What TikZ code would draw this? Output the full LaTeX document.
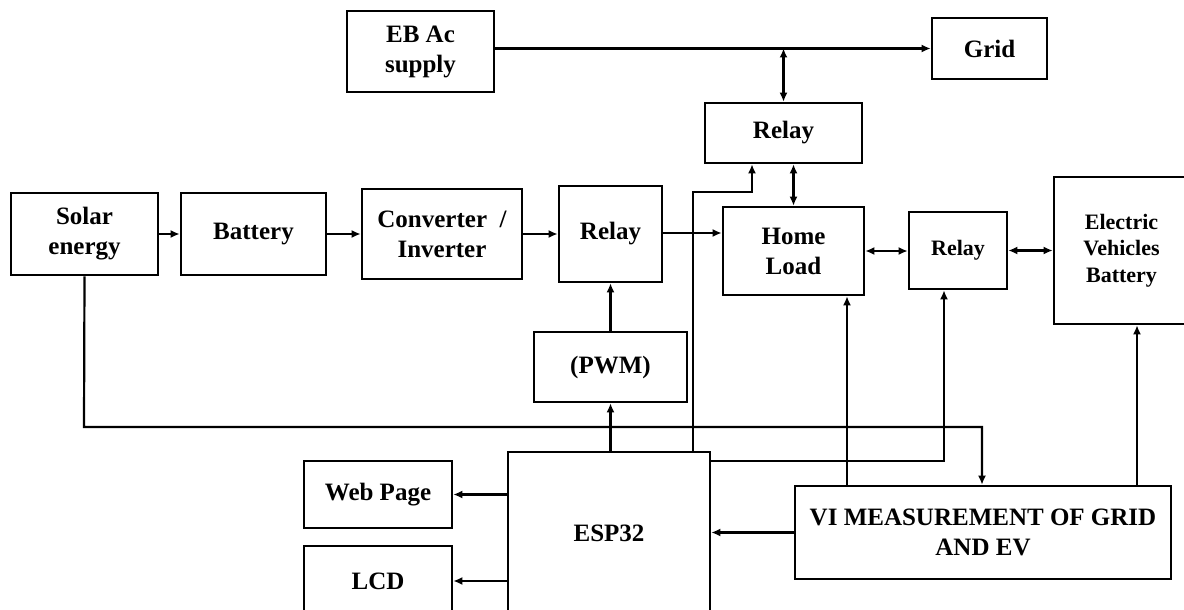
\documentclass[tikz,border=0pt]{standalone}
\usepackage{fontspec}
\setmainfont{Liberation Serif}
\usetikzlibrary{arrows.meta}
\tikzset{
  blk/.style={draw=black, line width=2.6pt, inner sep=0pt, align=center,
    font=\bfseries\fontsize{25}{30}\selectfont},
  blksm/.style={blk, font=\bfseries\fontsize{22}{26.5}\selectfont},
  arr/.style={line width=2.2pt, -{Latex[length=9pt,width=8pt]}},
  darr/.style={line width=2.2pt, {Latex[length=9pt,width=8pt]}-{Latex[length=9pt,width=8pt]}}
}
\begin{document}
\begin{tikzpicture}[x=1pt,y=-1pt]
\useasboundingbox (0,0) rectangle (1184,610);
\clip (0,0) rectangle (1184,610);
% nodes
\node[blk, minimum width=147pt, minimum height=81pt] (eb) at (420.5,51.5) {EB Ac\\supply};
\node[blk, minimum width=115pt, minimum height=61pt] (grid) at (989.5,48.5) {Grid};
\node[blk, minimum width=157pt, minimum height=60pt] (relayT) at (783.5,133) {Relay};
\node[blk, minimum width=147pt, minimum height=82pt] (solar) at (84.5,234) {Solar\\energy};
\node[blk, minimum width=145pt, minimum height=82pt] (batt) at (253.5,234) {Battery};
\node[blk, minimum width=160pt, minimum height=90pt] (conv) at (442,234) {Converter\ \ /\\Inverter};
\node[blk, minimum width=103pt, minimum height=96pt] (relayM) at (610.5,234) {Relay};
\node[blk, minimum width=141pt, minimum height=88pt] (home) at (793.5,251) {Home\\Load};
\node[blksm, minimum width=98pt, minimum height=77pt] (relayR) at (958,250.5) {Relay};
\node[blksm, minimum width=135pt, minimum height=147pt] (ev) at (1121.5,250.5) {Electric\\Vehicles\\Battery};
\node[blk, minimum width=153pt, minimum height=70pt] (pwm) at (610.5,367) {(PWM)};
\node[blk, minimum width=202pt, minimum height=162pt] (esp) at (609,533) {ESP32};
\node[blk, minimum width=148pt, minimum height=67pt] (web) at (378,494.5) {Web Page};
\node[blk, minimum width=148pt, minimum height=70pt] (lcd) at (378,581) {LCD};
\node[blk, minimum width=376pt, minimum height=93pt] (vi) at (983,532.5) {VI MEASUREMENT OF GRID\\AND EV};
% connectors
\draw[arr] (eb.east |- grid.west) -- (grid.west);
\draw[darr] (relayT.north |- grid.west) -- (relayT.north);
\draw[arr] (solar.east) -- (batt.west);
\draw[arr] (batt.east) -- (conv.west);
\draw[arr] (conv.east) -- (relayM.west |- conv.east);
\draw[arr] (relayM.east |- 0,233) -- (home.west |- 0,233);
\draw[darr] (home.east) -- (relayR.west |- home.east);
\draw[darr] (relayR.east) -- (ev.west |- relayR.east);
\draw[darr] (home.north) -- (home.north |- relayT.south);
\draw[arr] (esp.north -| 693,0) -- (693,192) -- (752,192) -- (relayT.south -| 752,0);
\draw[arr] (pwm.north) -- (relayM.south);
\draw[arr] (pwm.south |- esp.north) -- (pwm.south);
\draw[arr] (solar.south) -- (84,427) -- (982,427) -- (vi.north -| 982,0);
\draw[arr] (esp.east |- 0,461) -- (944,461) -- (relayR.south -| 944,0);
\draw[arr] (vi.north -| 847,0) -- (home.south -| 847,0);
\draw[arr] (vi.north -| 1137,0) -- (ev.south -| 1137,0);
\draw[arr] (vi.west) -- (esp.east |- vi.west);
\draw[arr] (esp.west |- web.east) -- (web.east);
\draw[arr] (esp.west |- lcd.east) -- (lcd.east);
\end{tikzpicture}
\end{document}
